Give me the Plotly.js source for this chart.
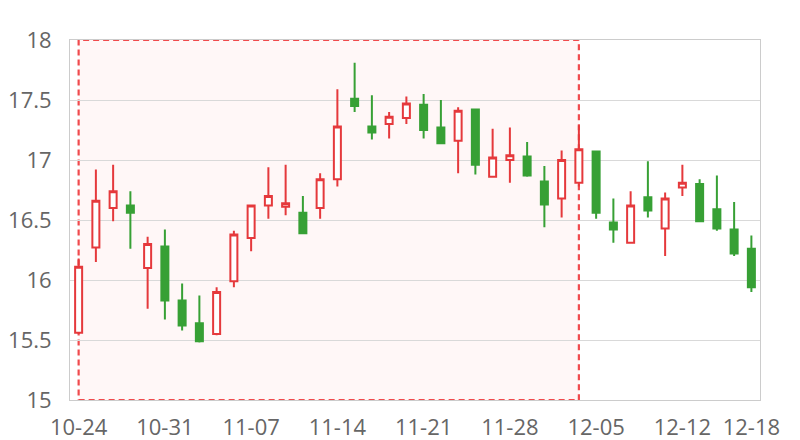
<!DOCTYPE html>
<html>
<head>
<meta charset="utf-8">
<script src="https://cdn.plot.ly/plotly-3.0.1.min.js"></script>
<style>html,body{margin:0;padding:0;background:#fff;}#chart{width:800px;height:440px;}</style>
</head>
<body>
<div id="chart"></div>
<script>
const dates = ['10-24','10-25','10-26','10-27','10-28','10-31','11-01','11-02','11-03','11-04',
  '11-07','11-08','11-09','11-10','11-11','11-14','11-15','11-16','11-17','11-18',
  '11-21','11-22','11-23','11-24','11-25','11-28','11-29','11-30','12-01','12-02',
  '12-05','12-06','12-07','12-08','12-09','12-12','12-13','12-14','12-15','12-18'];
const openVals  = [15.56,16.27,16.60,16.62,16.10,16.28,15.83,15.64,15.55,15.99,
  16.35,16.62,16.61,16.56,16.60,16.84,17.51,17.28,17.30,17.35,
  17.46,17.27,17.16,17.42,16.86,17.00,17.03,16.82,16.68,16.81,
  17.07,16.48,16.31,16.69,16.43,16.77,16.80,16.59,16.42,16.26];
const highVals  = [16.18,16.92,16.96,16.74,16.36,16.42,15.97,15.87,15.94,16.41,
  16.63,16.94,16.96,16.70,16.89,17.59,17.81,17.54,17.40,17.53,
  17.55,17.50,17.44,17.42,17.26,17.27,17.15,16.95,17.08,17.29,
  17.07,16.68,16.74,16.99,16.73,16.96,16.84,16.87,16.65,16.37];
const lowVals   = [15.55,16.15,16.49,16.26,15.76,15.67,15.58,15.48,15.54,15.94,
  16.24,16.51,16.54,16.39,16.51,16.78,17.40,17.17,17.18,17.30,
  17.18,17.14,16.89,16.88,16.86,16.81,16.86,16.44,16.52,16.78,
  16.51,16.31,16.31,16.52,16.20,16.70,16.49,16.41,16.20,15.90];
const closeVals = [16.11,16.66,16.74,16.56,16.30,15.83,15.62,15.49,15.90,16.38,
  16.62,16.70,16.64,16.39,16.84,17.28,17.45,17.23,17.36,17.47,
  17.25,17.14,17.41,16.96,17.02,17.04,16.87,16.63,17.00,17.09,
  16.56,16.42,16.62,16.58,16.68,16.81,16.49,16.43,16.22,15.94];
const tickDates = ['10-24','10-31','11-07','11-14','11-21','11-28','12-05','12-12','12-18'];
const highlightStart = '10-24';
const highlightEnd = '12-02';

const upColor = '#e5393c';
const downColor = '#37a035';

const trace = {
  type: 'candlestick',
  x: dates,
  open: openVals, high: highVals, low: lowVals, close: closeVals,
  increasing: {line: {color: upColor, width: 2}, fillcolor: '#ffffff'},
  decreasing: {line: {color: downColor, width: 2}, fillcolor: downColor},
  whiskerwidth: 0,
  hoverinfo: 'skip',
  showlegend: false
};

const layout = {
  width: 800, height: 440,
  margin: {l: 70, r: 40, t: 40, b: 40},
  paper_bgcolor: '#ffffff',
  plot_bgcolor: '#ffffff',
  font: {family: 'Open Sans, sans-serif', size: 22, color: '#666666'},
  showlegend: false,
  boxgap: 0.42,
  xaxis: {
    type: 'category',
    categoryorder: 'array',
    categoryarray: dates,
    range: [-0.5, dates.length - 0.5],
    tickmode: 'array',
    tickvals: tickDates,
    ticktext: tickDates,
    showgrid: false,
    showline: true,
    linecolor: '#cccccc',
    linewidth: 1,
    mirror: true,
    ticks: '',
    ticklabelstandoff: 8,
    rangeslider: {visible: false},
    tickfont: {family: 'Open Sans, sans-serif', size: 22, color: '#666666'},
    fixedrange: true
  },
  yaxis: {
    range: [15, 18],
    tickmode: 'linear',
    tick0: 15,
    dtick: 0.5,
    showgrid: true,
    gridcolor: '#d9d9d9',
    gridwidth: 1,
    showline: true,
    linecolor: '#cccccc',
    linewidth: 1,
    mirror: true,
    zeroline: false,
    ticks: '',
    ticklabelstandoff: 13,
    tickfont: {family: 'Open Sans, sans-serif', size: 22, color: '#666666'},
    fixedrange: true
  },
  shapes: [{
    type: 'rect',
    xref: 'x', yref: 'paper',
    x0: highlightStart, x1: highlightEnd,
    y0: 0, y1: 1,
    fillcolor: 'rgba(255,0,0,0.03)',
    line: {color: '#f04a4d', width: 2.2, dash: '6px,4px'},
    layer: 'below'
  }]
};

Plotly.newPlot('chart', [trace], layout, {displayModeBar: false, staticPlot: true});
</script>
</body>
</html>
